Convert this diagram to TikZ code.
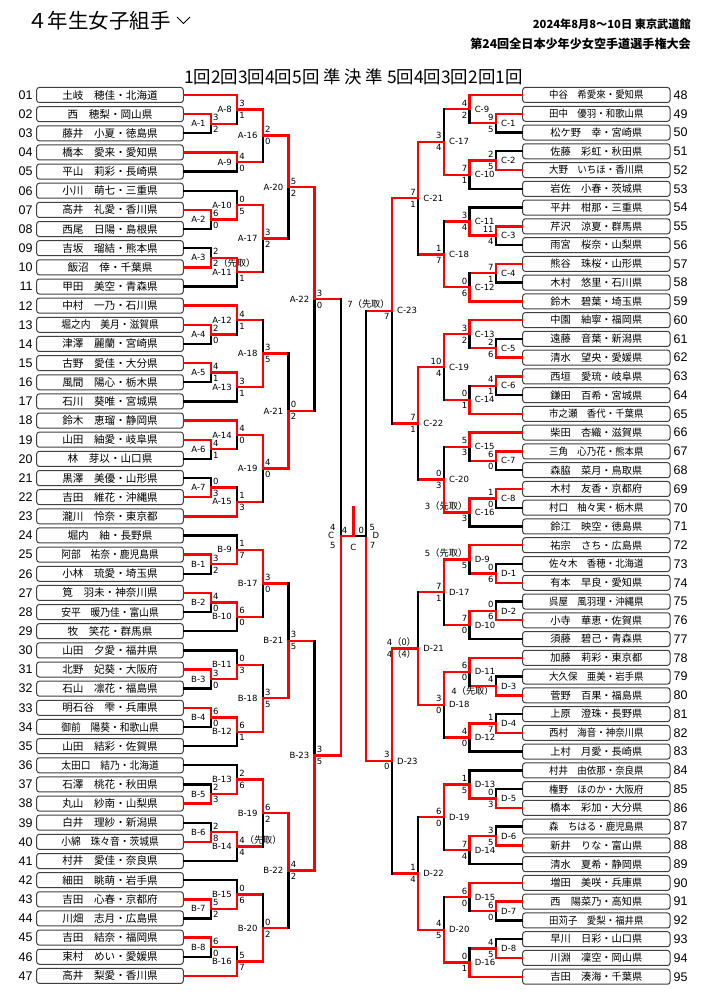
\documentclass[tikz,border=0pt]{standalone}
\usepackage{fontspec}
\setmainfont{Noto Sans CJK JP}
\newfontfamily\dvs{DejaVu Sans}
\newfontfamily\lib{Liberation Sans}
\newfontfamily\jp{Noto Sans CJK JP}
\usepackage{graphicx}
\usetikzlibrary{calc}

% squeeze a long name into the box
\newsavebox\nmbox
\newcommand\fitnm[2]{\sbox\nmbox{#2}\ifdim\wd\nmbox>#1\relax\resizebox{#1}{\height}{\usebox\nmbox}\else\usebox\nmbox\fi}
% bracketed note after a score
\newcommand\pnote[1]{{\jp\fontsize{9.2}{9.2}\selectfont（#1）}}

\tikzset{
  lbox/.style={draw=black!75, fill=white, rounded corners=2.5pt, line width=1pt,
    minimum width=146.6pt, minimum height=15pt, inner sep=0pt,
    font=\fontsize{10.6}{12}\selectfont},
  rbox/.style={lbox, minimum width=147.3pt, font=\fontsize{10.2}{12}\selectfont},
  num/.style={font=\lib\fontsize{12.5}{13}\selectfont, inner sep=0pt},
  win/.style={draw=red, line width=2.4pt, line cap=rect},
  lose/.style={draw=black, line width=2.4pt, line cap=rect},
  sc/.style={font=\dvs\fontsize{8.5}{9}\selectfont, inner sep=0pt},
  mlab/.style={font=\dvs\fontsize{8.5}{9}\selectfont, inner sep=0pt},
}

% one bout: #1 block, #2 no., #3 top, #4 bottom, #5 column,
% #6 winner (t/b), #7 top score, #8 bottom score, #9 side (l/r)
\newcommand\bout[9]{%
  \coordinate (#1#2m) at ($(#3)!.5!(#4)$);
  \coordinate (#1#2) at (#1#2m -| #5);
  \if#6t\def\W{#3}\def\L{#4}\else\def\W{#4}\def\L{#3}\fi
  \ifcsname m@\L\endcsname\tikzset{lh/.style={win}}\else\tikzset{lh/.style={lose}}\fi
  \draw[lh] (\L) -- (\L -| #5);
  \draw[lose] (\L -| #5) -- (#1#2);
  \draw[win] (\W) -- (\W -| #5) -- (#1#2);
  \expandafter\gdef\csname m@#1#2\endcsname{}%
  \if#9l
    \node[mlab, anchor=east] (l#1#2) at ([xshift=-5pt]#1#2) {#1-#2};
    \if\relax\detokenize{#7}\relax\else
      \node[sc, anchor=base west] (t#1#2) at ([xshift=2.2pt,yshift=3pt]#1#2) {#7};\fi
    \node[sc, anchor=base west] (b#1#2) at ([xshift=2.2pt,yshift=-9pt]#1#2) {#8};
  \else
    \node[mlab, anchor=west] (l#1#2) at ([xshift=5pt]#1#2) {#1-#2};
    \node[sc, anchor=base east] (t#1#2) at ([xshift=-2.2pt,yshift=3pt]#1#2) {#7};
    \node[sc, anchor=base east] (b#1#2) at ([xshift=-2.2pt,yshift=-9pt]#1#2) {#8};
  \fi
}

\begin{document}
\begin{tikzpicture}[x=1pt,y=-1pt]
  \useasboundingbox (0,0) rectangle (707,1000);
  \fill[white] (0,0) rectangle (707,1000);

  % heading
  \node[anchor=west, inner sep=0pt, font=\fontsize{20.5}{21}\selectfont] (title) at (27,21) {４年生女子組手};
  \draw[line width=0.9pt] (177,17) -- (183.5,23.5) -- (190,17);
  \node[anchor=east, inner sep=0pt, font=\bfseries\fontsize{11.2}{12}\selectfont] (date) at (691,24) {2024年8月8～10日 東京武道館};
  \node[anchor=east, inner sep=0pt, font=\bfseries\fontsize{12.1}{13}\selectfont] (meet) at (691,44) {第24回全日本少年少女空手道選手権大会};
  \node[inner sep=0pt, font=\fontsize{17.4}{18}\selectfont] (rounds) at (353.3,77) {1回2回3回4回5回 準 決 準 5回4回3回2回1回};

  % columns
  \coordinate (xL1) at (210.7,0);
  \coordinate (xL2) at (237,0);
  \coordinate (xL3) at (262.7,0);
  \coordinate (xL4) at (288.4,0);
  \coordinate (xL5) at (314.5,0);
  \coordinate (xL6) at (340.7,0);
  \coordinate (xR1) at (496,0);
  \coordinate (xR2) at (469.6,0);
  \coordinate (xR3) at (443.9,0);
  \coordinate (xR4) at (418.2,0);
  \coordinate (xR5) at (392,0);
  \coordinate (xR6) at (366,0);

  % players, left
  \foreach \t [count=\i] in {土岐　穂佳・北海道, 西　穂梨・岡山県, 藤井　小夏・徳島県,
      橋本　愛来・愛知県, 平山　莉彩・長崎県, 小川　萌七・三重県, 高井　礼愛・香川県,
      西尾　日陽・島根県, 吉坂　瑠結・熊本県, 飯沼　倖・千葉県, 甲田　美空・青森県,
      中村　一乃・石川県, 堀之内　美月・滋賀県, 津澤　麗蘭・宮崎県, 古野　愛佳・大分県,
      風間　陽心・栃木県, 石川　葵唯・宮城県, 鈴木　恵瑠・静岡県, 山田　紬愛・岐阜県,
      林　芽以・山口県, 黒澤　美優・山形県, 吉田　維花・沖縄県, 瀧川　怜奈・東京都,
      堀内　紬・長野県, 阿部　祐奈・鹿児島県, 小林　琉愛・埼玉県, 筧　羽未・神奈川県,
      安平　暖乃佳・富山県, 牧　笑花・群馬県, 山田　夕愛・福井県, 北野　妃葵・大阪府,
      石山　凛花・福島県, 明石谷　雫・兵庫県, 御前　陽葵・和歌山県, 山田　結彩・佐賀県,
      太田口　結乃・北海道, 石澤　桃花・秋田県, 丸山　紗南・山梨県, 白井　理紗・新潟県,
      小綿　珠々音・茨城県, 村井　愛佳・奈良県, 細田　眺萌・岩手県, 吉田　心春・京都府,
      川畑　志月・広島県, 吉田　結奈・福岡県, 束村　めい・愛媛県, 高井　梨愛・香川県}
  {
    \node[lbox] (p\i) at (110,{95+(\i-1)*19.15}) {\fitnm{97.5pt}{\t}};
    \node[num, anchor=east] (n\i) at ([xshift=-3.4pt]p\i.west) {\ifnum\i<10 0\fi\i};
  }

  % players, right
  \foreach \t [count=\i from 48] in {中谷　希愛來・愛知県, 田中　優羽・和歌山県,
      松ケ野　幸・宮崎県, 佐藤　彩虹・秋田県, 大野　いちほ・香川県, 岩佐　小春・茨城県,
      平井　柑那・三重県, 芹沢　涼夏・群馬県, 雨宮　桜奈・山梨県, 熊谷　珠桜・山形県,
      木村　悠里・石川県, 鈴木　碧葉・埼玉県, 中園　紬寧・福岡県, 遠藤　音葉・新潟県,
      清水　望央・愛媛県, 西垣　愛琉・岐阜県, 鎌田　百希・宮城県, 市之瀬　香代・千葉県,
      柴田　杏織・滋賀県, 三角　心乃花・熊本県, 森脇　菜月・鳥取県, 木村　友香・京都府,
      村口　柚々実・栃木県, 鈴江　映空・徳島県, 祐宗　さち・広島県, 佐々木　香穂・北海道,
      有本　早良・愛知県, 呉屋　風羽理・沖縄県, 小寺　華恵・佐賀県, 須藤　碧己・青森県,
      加藤　莉彩・東京都, 大久保　亜美・岩手県, 菅野　百果・福島県, 上原　澄珠・長野県,
      西村　海音・神奈川県, 上村　月愛・長崎県, 村井　由依那・奈良県, 権野　ほのか・大阪府,
      橋本　彩加・大分県, 森　ちはる・鹿児島県, 新井　りな・富山県, 清水　夏希・静岡県,
      増田　美咲・兵庫県, 西　陽菜乃・高知県, 田苅子　愛梨・福井県, 早川　日彩・山口県,
      川淵　凜空・岡山県, 吉田　湊海・千葉県}
  {
    \node[rbox] (p\i) at (596.35,{95+(\i-48)*18.76}) {\fitnm{94.5pt}{\t}};
    \node[num, anchor=west] (n\i) at ([xshift=3pt]p\i.east) {\i};
  }

  % A block
  \bout{A}{1}{p2}{p3}{xL1}{t}{3}{2}{l}
  \bout{A}{2}{p7}{p8}{xL1}{t}{6}{0}{l}
  \bout{A}{3}{p9}{p10}{xL1}{b}{2}{2\pnote{先取}}{l}
  \bout{A}{4}{p13}{p14}{xL1}{t}{2}{0}{l}
  \bout{A}{5}{p15}{p16}{xL1}{t}{4}{1}{l}
  \bout{A}{6}{p19}{p20}{xL1}{t}{4}{1}{l}
  \bout{A}{7}{p21}{p22}{xL1}{b}{0}{3}{l}
  \bout{A}{8}{p1}{A1}{xL2}{t}{3}{1}{l}
  \bout{A}{9}{p4}{p5}{xL2}{t}{4}{0}{l}
  \bout{A}{10}{p6}{A2}{xL2}{b}{0}{5}{l}
  \bout{A}{11}{A3}{p11}{xL2}{t}{}{1}{l}
  \bout{A}{12}{p12}{A4}{xL2}{t}{4}{1}{l}
  \bout{A}{13}{A5}{p17}{xL2}{t}{3}{1}{l}
  \bout{A}{14}{p18}{A6}{xL2}{t}{4}{0}{l}
  \bout{A}{15}{A7}{p23}{xL2}{b}{1}{3}{l}
  \bout{A}{16}{A8}{A9}{xL3}{t}{2}{0}{l}
  \bout{A}{17}{A10}{A11}{xL3}{t}{3}{2}{l}
  \bout{A}{18}{A12}{A13}{xL3}{b}{3}{5}{l}
  \bout{A}{19}{A14}{A15}{xL3}{t}{4}{0}{l}
  \bout{A}{20}{A16}{A17}{xL4}{t}{5}{2}{l}
  \bout{A}{21}{A18}{A19}{xL4}{b}{0}{2}{l}
  \bout{A}{22}{A20}{A21}{xL5}{t}{3}{0}{l}

  % B block
  \bout{B}{1}{p25}{p26}{xL1}{t}{3}{2}{l}
  \bout{B}{2}{p27}{p28}{xL1}{t}{4}{0}{l}
  \bout{B}{3}{p31}{p32}{xL1}{t}{3}{0}{l}
  \bout{B}{4}{p33}{p34}{xL1}{t}{6}{0}{l}
  \bout{B}{5}{p37}{p38}{xL1}{b}{2}{3}{l}
  \bout{B}{6}{p39}{p40}{xL1}{b}{2}{8}{l}
  \bout{B}{7}{p43}{p44}{xL1}{t}{5}{2}{l}
  \bout{B}{8}{p45}{p46}{xL1}{t}{6}{0}{l}
  \bout{B}{9}{p24}{B1}{xL2}{b}{1}{7}{l}
  \bout{B}{10}{B2}{p29}{xL2}{t}{6}{0}{l}
  \bout{B}{11}{p30}{B3}{xL2}{b}{0}{3}{l}
  \bout{B}{12}{B4}{p35}{xL2}{t}{6}{1}{l}
  \bout{B}{13}{p36}{B5}{xL2}{b}{2}{6}{l}
  \bout{B}{14}{B6}{p41}{xL2}{t}{4\pnote{先取}}{4}{l}
  \bout{B}{15}{p42}{B7}{xL2}{b}{0}{6}{l}
  \bout{B}{16}{B8}{p47}{xL2}{b}{5}{7}{l}
  \bout{B}{17}{B9}{B10}{xL3}{t}{3}{0}{l}
  \bout{B}{18}{B11}{B12}{xL3}{b}{3}{5}{l}
  \bout{B}{19}{B13}{B14}{xL3}{t}{6}{2}{l}
  \bout{B}{20}{B15}{B16}{xL3}{b}{0}{2}{l}
  \bout{B}{21}{B17}{B18}{xL4}{b}{3}{5}{l}
  \bout{B}{22}{B19}{B20}{xL4}{t}{4}{2}{l}
  \bout{B}{23}{B21}{B22}{xL5}{b}{3}{5}{l}

  % C block
  \bout{C}{1}{p49}{p50}{xR1}{t}{9}{5}{r}
  \bout{C}{2}{p51}{p52}{xR1}{b}{2}{5}{r}
  \bout{C}{3}{p55}{p56}{xR1}{t}{11}{4}{r}
  \bout{C}{4}{p57}{p58}{xR1}{t}{7}{1}{r}
  \bout{C}{5}{p61}{p62}{xR1}{b}{2}{6}{r}
  \bout{C}{6}{p63}{p64}{xR1}{t}{4}{1}{r}
  \bout{C}{7}{p67}{p68}{xR1}{t}{6}{0}{r}
  \bout{C}{8}{p69}{p70}{xR1}{t}{1}{0}{r}
  \bout{C}{9}{p48}{C1}{xR2}{t}{4}{2}{r}
  \bout{C}{10}{C2}{p53}{xR2}{t}{7}{1}{r}
  \bout{C}{11}{p54}{C3}{xR2}{b}{3}{4}{r}
  \bout{C}{12}{C4}{p59}{xR2}{b}{0}{6}{r}
  \bout{C}{13}{p60}{C5}{xR2}{t}{3}{2}{r}
  \bout{C}{14}{C6}{p65}{xR2}{b}{0}{1}{r}
  \bout{C}{15}{p66}{C7}{xR2}{t}{5}{3}{r}
  \bout{C}{16}{C8}{p71}{xR2}{t}{3\pnote{先取}}{3}{r}
  \bout{C}{17}{C9}{C10}{xR3}{b}{3}{4}{r}
  \bout{C}{18}{C11}{C12}{xR3}{b}{1}{7}{r}
  \bout{C}{19}{C13}{C14}{xR3}{t}{10}{4}{r}
  \bout{C}{20}{C15}{C16}{xR3}{b}{0}{3}{r}
  \bout{C}{21}{C17}{C18}{xR4}{t}{7}{1}{r}
  \bout{C}{22}{C19}{C20}{xR4}{t}{7}{1}{r}
  \bout{C}{23}{C21}{C22}{xR5}{t}{7\pnote{先取}}{7}{r}

  % D block
  \bout{D}{1}{p73}{p74}{xR1}{b}{0}{6}{r}
  \bout{D}{2}{p75}{p76}{xR1}{b}{0}{6}{r}
  \bout{D}{3}{p79}{p80}{xR1}{b}{4}{4\pnote{先取}}{r}
  \bout{D}{4}{p81}{p82}{xR1}{b}{1}{7}{r}
  \bout{D}{5}{p85}{p86}{xR1}{b}{0}{3}{r}
  \bout{D}{6}{p87}{p88}{xR1}{b}{3}{5}{r}
  \bout{D}{7}{p91}{p92}{xR1}{t}{6}{0}{r}
  \bout{D}{8}{p93}{p94}{xR1}{b}{4}{5}{r}
  \bout{D}{9}{p72}{D1}{xR2}{t}{5\pnote{先取}}{5}{r}
  \bout{D}{10}{D2}{p77}{xR2}{t}{7}{0}{r}
  \bout{D}{11}{p78}{D3}{xR2}{t}{6}{0}{r}
  \bout{D}{12}{D4}{p83}{xR2}{t}{4}{0}{r}
  \bout{D}{13}{p84}{D5}{xR2}{b}{1}{5}{r}
  \bout{D}{14}{D6}{p89}{xR2}{t}{7}{4}{r}
  \bout{D}{15}{p90}{D7}{xR2}{t}{6}{0}{r}
  \bout{D}{16}{D8}{p95}{xR2}{b}{0}{1}{r}
  \bout{D}{17}{D9}{D10}{xR3}{t}{7}{1}{r}
  \bout{D}{18}{D11}{D12}{xR3}{t}{3}{0}{r}
  \bout{D}{19}{D13}{D14}{xR3}{t}{6}{0}{r}
  \bout{D}{20}{D15}{D16}{xR3}{b}{4}{5}{r}
  \bout{D}{21}{D17}{D18}{xR4}{b}{4\pnote{0}}{4\pnote{4}}{r}
  \bout{D}{22}{D19}{D20}{xR4}{b}{1}{4}{r}
  \bout{D}{23}{D21}{D22}{xR5}{t}{3}{0}{r}

  % semi-finals and final
  \coordinate (SRm) at ($(C23)!.5!(D23)$);
  \coordinate (SR) at (SRm -| xR6);
  \coordinate (SL) at (SRm -| xL6);
  \coordinate (F) at ($(SL)!.5!(SR)$);
  \coordinate (champ) at ($(F)+(0,-29)$);
  \draw[win] (A22) -- (A22 -| xL6);
  \draw[lose] (A22 -| xL6) -- (SL);
  \draw[win] (B23) -- (B23 -| xL6) -- (SL);
  \draw[win] (C23) -- (C23 -| xR6);
  \draw[lose] (C23 -| xR6) -- (SR);
  \draw[win] (D23) -- (D23 -| xR6) -- (SR);
  \draw[lose] (SR) -- (F);
  \draw[win] (SL) -- (F) -- (champ);
  \node[sc, anchor=base east] (tSL) at ([xshift=-5pt,yshift=5.5pt]SL) {4};
  \node[mlab, anchor=east] (lSL) at ([xshift=-6.5pt]SL) {C};
  \node[sc, anchor=base east] (bSL) at ([xshift=-5pt,yshift=-12.8pt]SL) {5};
  \node[sc, anchor=base west] (tSR) at ([xshift=3.3pt,yshift=5.5pt]SR) {5};
  \node[mlab, anchor=west] (lSR) at ([xshift=6.3pt]SR) {D};
  \node[sc, anchor=base west] (bSR) at ([xshift=3.7pt,yshift=-12.8pt]SR) {7};
  \node[sc, anchor=base west] (tFL) at ([xshift=1pt,yshift=1.9pt]SL) {4};
  \node[sc, anchor=base east] (tFR) at ([xshift=-1.7pt,yshift=1.9pt]SR) {0};
  \node[mlab, anchor=north] (lF) at ([yshift=-8.6pt]F) {C};
\end{tikzpicture}
\end{document}
